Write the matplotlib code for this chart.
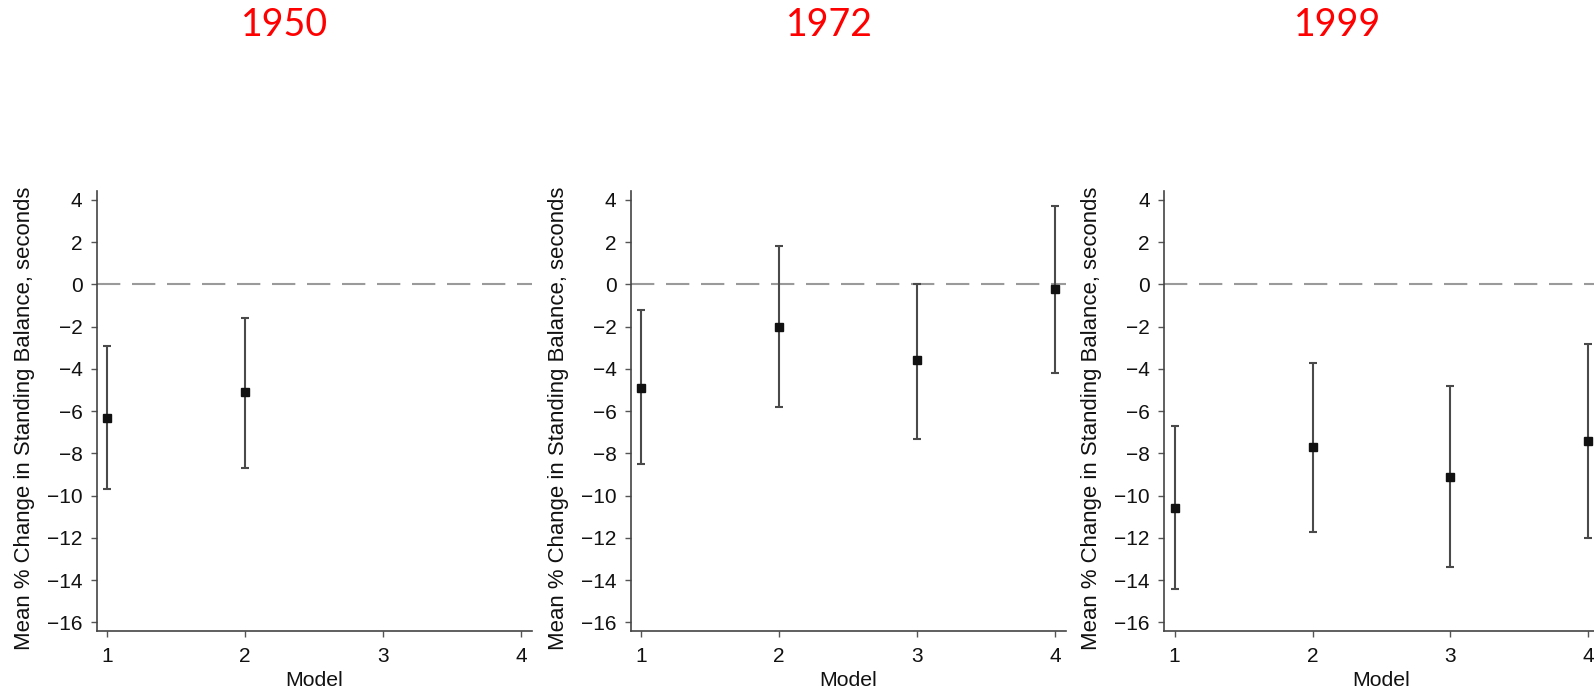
import matplotlib
matplotlib.use("Agg")
import matplotlib.pyplot as plt
import numpy as np

years = ["1950", "1972", "1999"]
models_1950 = [1, 2]
est_1950 = [-6.3, -5.1]
lo_1950 = [-9.7, -8.7]
hi_1950 = [-2.9, -1.6]

models_1972 = [1, 2, 3, 4]
est_1972 = [-4.9, -2.0, -3.6, -0.2]
lo_1972 = [-8.5, -5.8, -7.3, -4.2]
hi_1972 = [-1.2, 1.8, 0.0, 3.7]

models_1999 = [1, 2, 3, 4]
est_1999 = [-10.6, -7.7, -9.1, -7.4]
lo_1999 = [-14.4, -11.7, -13.4, -12.0]
hi_1999 = [-6.7, -3.7, -4.8, -2.8]

yticks = [-16, -14, -12, -10, -8, -6, -4, -2, 0, 2, 4]
xticks = [1, 2, 3, 4]
ylabel = "Mean % Change in Standing Balance, seconds"
xlabel = "Model"

panels = [
    (models_1950, est_1950, lo_1950, hi_1950),
    (models_1972, est_1972, lo_1972, hi_1972),
    (models_1999, est_1999, lo_1999, hi_1999),
]

plt.rcParams['font.family'] = ['Liberation Sans', 'DejaVu Sans']

W, H = 1594, 691
fig = plt.figure(figsize=(W / 100, H / 100), dpi=100)

lefts = [96.7, 630.7, 1164.0]
ax_w = 435.0
ax_top = 190.7
ax_bot = 631.0
ax_h = ax_bot - ax_top
title_x = [285, 829, 1338]

for i, (m, e, lo, hi) in enumerate(panels):
    ax = fig.add_axes([lefts[i] / W, 1 - ax_bot / H, ax_w / W, ax_h / H])
    ax.set_xlim(0.923, 4.077)
    ax.set_ylim(-16.41, 4.44)
    ax.spines['top'].set_visible(False)
    ax.spines['right'].set_visible(False)
    for s in ('left', 'bottom'):
        ax.spines[s].set_color('#444444')
        ax.spines[s].set_linewidth(1.2)
    ax.axhline(0, color='#9a9a9a', lw=1.5, dashes=(11.2, 5.6), zorder=1)
    e = np.array(e); lo = np.array(lo); hi = np.array(hi)
    ax.errorbar(m, e, yerr=[e - lo, hi - e], fmt='none', ecolor='#4a4a4a',
                elinewidth=1.5, capsize=2.6, capthick=1.5, zorder=2)
    ax.plot(m, e, 's', color='#111111', markersize=6.2, zorder=3)
    ax.set_xticks(xticks)
    ax.set_yticks(yticks)
    ax.tick_params(axis='both', direction='out', length=4.3, width=1.0,
                   color='#555555', labelsize=15, labelcolor='#111111')
    ax.tick_params(axis='x', pad=7.5)
    ax.tick_params(axis='y', pad=6.0)
    ax.set_xlabel(xlabel, fontsize=15.3, color='#111111')
    ax.xaxis.set_label_coords(0.5, -(671.0 - ax_bot) / ax_h)
    ax.set_ylabel(ylabel, fontsize=15.9, color='#111111')
    ax.yaxis.set_label_coords(-0.142, 0.482)
    fig.text(title_x[i] / W, 1 - 24.5 / H, years[i], color='#ff0000',
             fontsize=27, family=['Lato', 'DejaVu Sans'], ha='center', va='center')

fig.savefig("out.png", dpi=100)
